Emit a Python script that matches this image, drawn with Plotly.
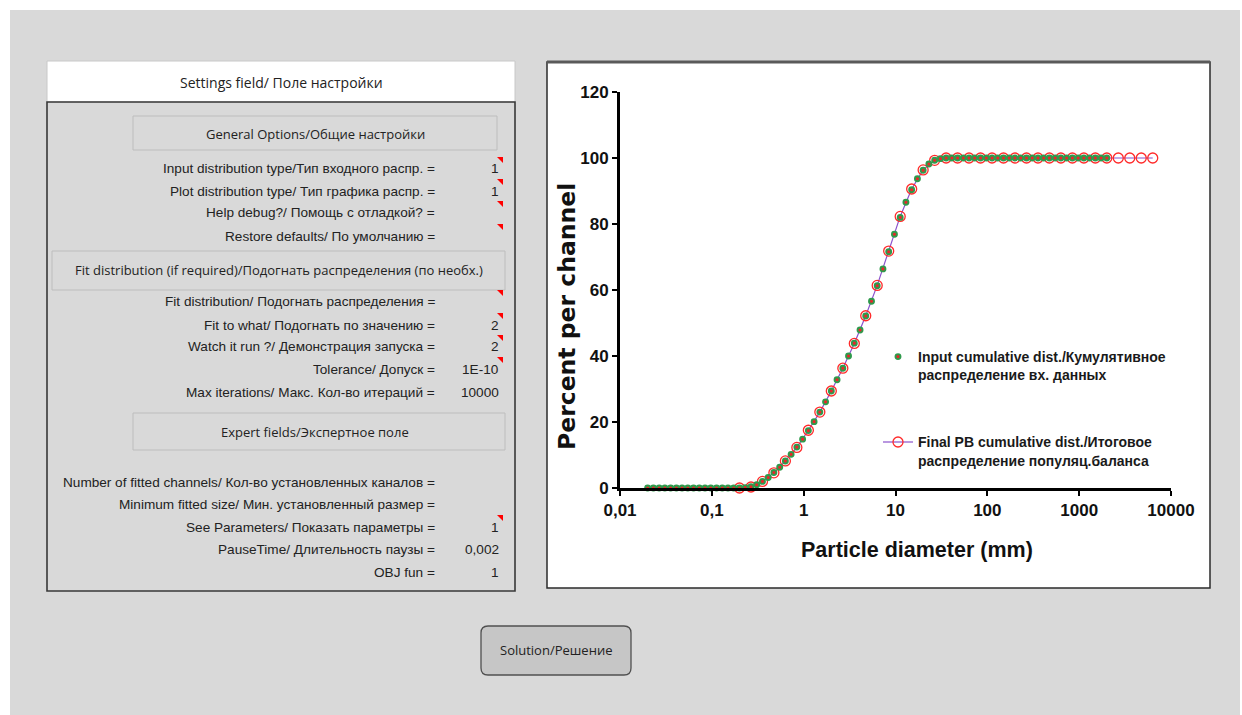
import plotly.graph_objects as go

W, H = 1242, 715

# ---------------- data ----------------
input_x = [0.0200, 0.0231, 0.0267, 0.0308, 0.0356, 0.0411, 0.0474, 0.0548, 0.0632, 0.0730,
           0.0843, 0.0974, 0.1125, 0.1299, 0.1500, 0.1732,
           0.200, 0.231, 0.267, 0.308, 0.356, 0.411, 0.474, 0.548, 0.632, 0.730,
           0.843, 0.974, 1.125, 1.299, 1.500, 1.732,
           2.00, 2.31, 2.67, 3.08, 3.56, 4.11, 4.74, 5.48, 6.32, 7.30,
           8.43, 9.74, 11.25, 12.99, 15.00, 17.32,
           20.0, 23.1, 26.7, 30.8, 35.6, 41.1, 47.4, 54.8, 63.2, 73.0,
           84.3, 97.4, 112.5, 129.9, 150.0, 173.2,
           200, 231, 267, 308, 356, 411, 474, 548, 632, 730,
           843, 974, 1125, 1299, 1500, 1732, 2000]
input_y = [0, 0, 0, 0, 0, 0, 0, 0, 0, 0, 0, 0, 0, 0, 0, 0, 0,
           0.1, 0.4, 1.0, 2.0, 3.2, 4.7, 6.3, 8.2, 10.2, 12.4, 14.8, 17.4, 20.1, 23.0,
           26.1, 29.4, 32.8, 36.3, 40.0, 43.9, 47.9, 52.1, 56.6, 61.3, 66.4, 71.6,
           76.9, 82.0, 86.6, 90.4, 93.7, 96.3, 98.2, 99.3, 99.8,
           100, 100, 100, 100, 100, 100, 100, 100, 100, 100, 100, 100, 100, 100, 100,
           100, 100, 100, 100, 100, 100, 100, 100, 100, 100, 100, 100, 100, 100]

pb_x = [0.200, 0.267, 0.356, 0.474, 0.632, 0.843, 1.125, 1.500, 2.00, 2.67,
        3.56, 4.74, 6.32, 8.43, 11.25, 15.00, 20.0, 26.7, 35.6, 47.4,
        63.2, 84.3, 112.5, 150.0, 200, 267, 356, 474, 632, 843,
        1125, 1500, 2000, 2667, 3557, 4743, 6325]
pb_y = [0, 0.3, 2.0, 4.6, 8.2, 12.3, 17.5, 23.0, 29.4, 36.3,
        43.8, 52.2, 61.4, 71.8, 82.3, 90.6, 96.4, 99.3, 100, 100,
        100, 100, 100, 100, 100, 100, 100, 100, 100, 100,
        100, 100, 100, 100, 100, 100, 100]

x_tickvals = [0.01, 0.1, 1, 10, 100, 1000, 10000]
x_ticktext = ["0,01", "0,1", "1", "10", "100", "1000", "10000"]
y_tickvals = [0, 20, 40, 60, 80, 100, 120]

series_names = ["Input cumulative dist./Кумулятивное<br>распределение вх. данных",
                "Final PB cumulative dist./Итоговое<br>распределение популяц.баланса"]

# settings panel content
general_labels = ["Input distribution type/Тип входного распр. =",
                  "Plot distribution type/ Тип графика распр. =",
                  "Help debug?/ Помощь с отладкой? =",
                  "Restore defaults/ По умолчанию ="]
general_values = ["1", "1", "", ""]
fit_labels = ["Fit distribution/ Подогнать распределения =",
              "Fit to what/ Подогнать по значению =",
              "Watch it run ?/ Демонстрация запуска =",
              "Tolerance/ Допуск =",
              "Max iterations/ Макс. Кол-во итераций ="]
fit_values = ["", "2", "2", "1E-10", "10000"]
expert_labels = ["Number of fitted channels/ Кол-во установленных каналов =",
                 "Minimum fitted size/ Мин. установленный размер =",
                 "See Parameters/ Показать параметры =",
                 "PauseTime/ Длительность паузы =",
                 "OBJ fun ="]
expert_values = ["", "", "1", "0,002", "1"]
general_flags = [True, True, True, True]
fit_flags = [True, True, True, True, False]
expert_flags = [False, False, True, False, False]

NARROW = "Liberation Sans Narrow, Arial Narrow, Liberation Sans, sans-serif"
UI = "Open Sans, Noto Sans, sans-serif"


def px(x):
    return x / W


def py(y):
    return 1 - y / H


shapes = []
annotations = []


def rect(x0, y0, x1, y1, fill, line_color, lw):
    shapes.append(dict(type="rect", xref="paper", yref="paper",
                       x0=px(x0), x1=px(x1), y0=py(y1), y1=py(y0),
                       fillcolor=fill, line=dict(color=line_color, width=lw),
                       layer="below"))


def text(x, y, s, size, family, anchor="center", color="#222", weight="normal", angle=0):
    annotations.append(dict(xref="paper", yref="paper", x=px(x), y=py(y), text=s,
                            showarrow=False, xanchor=anchor, yanchor="middle",
                            textangle=angle,
                            font=dict(size=size, family=family, color=color, weight=weight)))


def flag(y):
    path = "M {:.5f} {:.5f} L {:.5f} {:.5f} L {:.5f} {:.5f} Z".format(
        px(497), py(y - 12), px(503), py(y - 12), px(503), py(y - 6))
    shapes.append(dict(type="path", xref="paper", yref="paper", path=path,
                       fillcolor="#ff0000", line=dict(width=0), layer="above"))


# background
rect(10, 10, 1240, 716, "#d9d9d9", "rgba(0,0,0,0)", 0)
# settings header
rect(47, 61, 515, 102, "#ffffff", "#c8c8c8", 1)
text(281, 82, "Settings field/ Поле настройки", 14, UI)
# settings panel
rect(47, 102, 515, 591, "rgba(0,0,0,0)", "#383838", 1.6)
# section boxes
rect(133, 116, 497, 150, "rgba(0,0,0,0)", "#bdbdbd", 1)
text(315, 134, "General Options/Общие настройки", 13, UI)
rect(52, 251, 505, 290, "rgba(0,0,0,0)", "#bdbdbd", 1)
text(279, 270, "Fit distribution (if required)/Подогнать распределения (по необх.)", 13, UI)
rect(133, 413, 505, 450, "rgba(0,0,0,0)", "#bdbdbd", 1)
text(315, 432, "Expert fields/Экспертное поле", 13, UI)

rows = [(general_labels, general_values, general_flags, [169, 191, 213, 236]),
        (fit_labels, fit_values, fit_flags, [302, 325, 347, 369, 392]),
        (expert_labels, expert_values, expert_flags, [482, 504, 527, 549, 572])]
for labels, values, flags, ys in rows:
    for lab, val, fl, y in zip(labels, values, flags, ys):
        text(437, y, lab, 13.6, NARROW, anchor="right")
        if val:
            text(501, y, val, 13.6, NARROW, anchor="right")
        if fl:
            flag(y)

# chart panel
rect(547, 62, 1210, 588, "#ffffff", "#2b2b2b", 1.5)
shapes.append(dict(type="line", xref="paper", yref="paper", x0=px(547), x1=px(1210),
                   y0=py(62), y1=py(62), line=dict(color="#5a5a5a", width=3), layer="below"))

# button
bx0, by0, bx1, by1, r = 481, 626, 631, 675, 7
bpath = ("M {a} {b} L {c} {b} Q {d} {b} {d} {e} L {d} {f} Q {d} {g} {c} {g} "
         "L {a} {g} Q {h} {g} {h} {f} L {h} {e} Q {h} {b} {a} {b} Z").format(
    a=px(bx0 + r), b=py(by0), c=px(bx1 - r), d=px(bx1), e=py(by0 + r),
    f=py(by1 - r), g=py(by1), h=px(bx0))
shapes.append(dict(type="path", xref="paper", yref="paper", path=bpath,
                   fillcolor="#c6c6c6", line=dict(color="#505050", width=1.3), layer="below"))
text(556, 650, "Solution/Решение", 13, UI)

# axis titles
text(567, 317, "Percent per channel", 23.5, "DejaVu Sans, sans-serif", color="#111", weight="bold", angle=-90)
text(917, 550, "Particle diameter (mm)", 21.5, NARROW, color="#111", weight="bold")

fig = go.Figure()
fig.add_trace(go.Scatter(
    x=pb_x, y=pb_y, mode="lines+markers", name=series_names[1],
    line=dict(color="#8a52cc", width=1.2),
    marker=dict(symbol="circle-open", size=10, color="#ff2a2a", line=dict(width=1.3)),
    cliponaxis=False, legendgroup="pb", legendrank=2))
fig.add_trace(go.Scatter(
    x=input_x, y=input_y, mode="markers", name=series_names[0],
    marker=dict(symbol="circle", size=5, color="#e8262a", line=dict(color="#2f9a4c", width=1.9)),
    cliponaxis=False, legendgroup="inp", legendrank=1))

fig.update_layout(
    width=W, height=H, margin=dict(l=0, r=0, t=0, b=0, autoexpand=False),
    paper_bgcolor="#ffffff", plot_bgcolor="rgba(0,0,0,0)",
    shapes=shapes, annotations=annotations,
    showlegend=True,
    legend=dict(x=px(878), y=py(341), xanchor="left", yanchor="top",
                bgcolor="rgba(0,0,0,0)", traceorder="grouped", tracegroupgap=46,
                valign="top",
                font=dict(family=NARROW, size=14, color="#1a1a1a", weight="bold")),
    xaxis=dict(type="log", range=[-2, 4], domain=[px(620), px(1171)],
               tickvals=x_tickvals, ticktext=x_ticktext,
               showgrid=False, zeroline=False, showline=True, linecolor="#000", linewidth=3,
               ticks="outside", ticklen=5, tickwidth=2, tickcolor="#000",
               tickfont=dict(family=NARROW, size=17, color="#111", weight="bold")),
    yaxis=dict(range=[0, 120], domain=[py(488), py(92)],
               tickvals=y_tickvals,
               showgrid=False, zeroline=False, showline=True, linecolor="#000", linewidth=3,
               ticks="outside", ticklen=5, tickwidth=2, tickcolor="#000",
               tickfont=dict(family=NARROW, size=17, color="#111", weight="bold")),
)

fig.write_html("out.html", config={"displayModeBar": False},
               post_script="document.body.style.margin='0';document.body.style.overflow='hidden';")
